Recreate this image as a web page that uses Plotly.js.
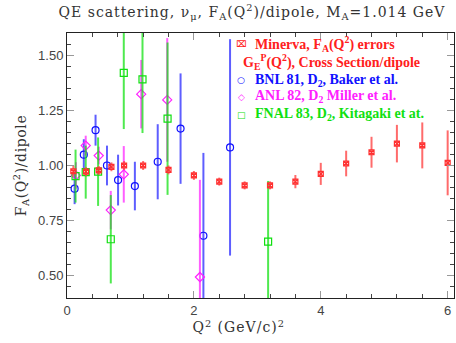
<!DOCTYPE html>
<html>
<head>
<meta charset="utf-8">
<script src="https://cdn.plot.ly/plotly-3.0.1.min.js"></script>
<style>
html,body{margin:0;padding:0;background:#fff;}
#chart{width:456px;height:343px;}
#chart .gtitle{letter-spacing:1px;}
#chart .xtitle{letter-spacing:1px;}
#chart .ytitle{letter-spacing:0.6px;}
</style>
</head>
<body>
<div id="chart"></div>
<script>
// Minerva F_A(Q^2)/dipole
const minervaQ2 = [0.1, 0.3, 0.5, 0.7, 0.9, 1.2, 1.6, 2.0, 2.4, 2.8, 3.2, 3.6, 4.0, 4.4, 4.8, 5.2, 5.6, 6.0];
const minervaVal = [0.974, 0.972, 0.978, 0.994, 1.0, 1.0, 0.98, 0.955, 0.927, 0.91, 0.91, 0.927, 0.962, 1.009, 1.06, 1.099, 1.091, 1.012];
const minervaErr = [0.025, 0.02, 0.02, 0.02, 0.02, 0.02, 0.02, 0.02, 0.018, 0.018, 0.018, 0.03, 0.05, 0.058, 0.07, 0.085, 0.104, 0.147];
// BNL 81, D2, Baker et al.
const bnlQ2 = [0.12, 0.265, 0.45, 0.63, 0.805, 1.07, 1.43, 1.79, 2.15, 2.57];
const bnlVal = [0.895, 1.049, 1.16, 1.0, 0.934, 0.907, 1.017, 1.167, 0.682, 1.082];
const bnlErr = [0.07, 0.07, 0.07, 0.09, 0.115, 0.11, 0.17, 0.25, 0.375, 0.49];
// ANL 82, D2 Miller et al.
const anlQ2 = [0.14, 0.295, 0.5, 0.69, 0.895, 1.17, 1.58, 2.095];
const anlVal = [0.955, 1.09, 1.045, 0.798, 0.96, 1.323, 1.297, 0.495];
const anlErr = [0.06, 0.045, 0.04, 0.087, 0.128, 0.155, 0.28, 0.44];
// FNAL 83, D2, Kitagaki et al.
const fnalQ2 = [0.135, 0.295, 0.49, 0.69, 0.895, 1.19, 1.585, 3.17];
const fnalVal = [0.952, 0.97, 0.972, 0.666, 1.419, 1.39, 1.212, 0.655];
const fnalErr = [0.12, 0.12, 0.155, 0.2, 0.254, 0.243, 0.345, 0.275];

const legendLines = [
  {text: 'Minerva, F<sub>A</sub>(Q<sup>2</sup>) errors', color: '#ff2020'},
  {text: 'G<sub>E</sub><sup>P</sup>(Q<sup>2</sup>), Cross Section/dipole', color: '#ff2020'},
  {text: 'BNL 81, D<sub>2</sub>, Baker et al.', color: '#1010ff'},
  {text: 'ANL 82, D<sub>2</sub> Miller et al.', color: '#ff20ff'},
  {text: 'FNAL 83, D<sub>2</sub>, Kitagaki et at.', color: '#10e010'}
];
const legendSymbols = ['\u2327', '', '\u25CB', '\u25C7', '\u25A1'];

function errTrace(x, y, e, sym, size, col, barCol) {
  return {
    x: x, y: y, type: 'scatter', mode: 'markers', showlegend: false, cliponaxis: true,
    error_y: {type: 'data', array: e, visible: true, color: barCol, thickness: 2, width: 0},
    marker: {symbol: sym, size: size, color: col, line: {color: col, width: 1.2}}
  };
}

const data = [
  errTrace(bnlQ2, bnlVal, bnlErr, 'circle-open', 7, '#1010ff', 'rgba(40,40,255,0.75)'),
  errTrace(anlQ2, anlVal, anlErr, 'diamond-open', 7, '#ff20ff', 'rgba(255,40,255,0.75)'),
  errTrace(fnalQ2, fnalVal, fnalErr, 'square-open', 7, '#10e010', 'rgba(20,225,20,0.75)'),
  errTrace(minervaQ2, minervaVal, minervaErr, 'square-x-open', 5, '#ff3030', 'rgba(255,70,70,0.8)')
];

const serif = 'Liberation Serif, DejaVu Serif, serif';
const annotations = [];
const rowY = [43.5, 61.7, 80, 97, 115];
legendLines.forEach((l, i) => {
  const sym = legendSymbols[i];
  annotations.push({
    xref: 'paper', yref: 'paper', x: (241 - 67) / 387, y: 1 - (rowY[i] - 33) / 265,
    xanchor: sym ? 'center' : 'left', yanchor: 'middle', showarrow: false,
    text: sym ? sym : l.text,
    font: {family: sym ? 'DejaVu Sans' : serif, size: sym ? 9 : 14, color: l.color, weight: 'bold'}
  });
  if (sym) {
    annotations.push({
      xref: 'paper', yref: 'paper', x: (253 - 67) / 387, y: 1 - (rowY[i] - 33) / 265,
      xanchor: 'left', yanchor: 'middle', showarrow: false, text: l.text,
      font: {family: serif, size: 14, color: l.color, weight: 'bold'}
    });
  }
});

const axisCommon = {
  showgrid: false, zeroline: false, showline: true, linecolor: '#222', linewidth: 1,
  mirror: 'allticks', ticks: 'inside', ticklen: 7, tickcolor: '#999', tickwidth: 1,
  tickfont: {family: 'Liberation Sans, Arial, sans-serif', size: 13, color: '#444'}
};

const layout = {
  width: 456, height: 343,
  margin: {l: 67, r: 2, t: 33, b: 45},
  paper_bgcolor: '#fff', plot_bgcolor: '#fff',
  title: {
    text: 'QE scattering, \u03bd<sub>\u03bc</sub>, F<sub>A</sub>(Q<sup>2</sup>)/dipole, M<sub>A</sub>=1.014 GeV',
    font: {family: 'DejaVu Serif, serif', size: 14, color: '#333'},
    x: 252 / 456, xref: 'container', xanchor: 'center', y: 1 - 12 / 343, yref: 'container', yanchor: 'middle'
  },
  xaxis: Object.assign({}, axisCommon, {
    range: [0, 6.1], tickvals: [0, 2, 4, 6], ticktext: ['0', '2', '4', '6'],
    minor: {dtick: 0.4, tick0: 0, ticks: 'inside', ticklen: 4, tickcolor: '#444', showgrid: false},
    title: {text: 'Q<sup>2</sup> (GeV/c)<sup>2</sup>' + '&nbsp;'.repeat(8), standoff: 4,
            font: {family: 'DejaVu Serif, serif', size: 14, color: '#333'}}
  }),
  yaxis: Object.assign({}, axisCommon, {
    range: [0.4, 1.6], tickvals: [0.5, 0.75, 1.0, 1.25, 1.5], ticktext: ['0.50', '0.75', '1.00', '1.25', '1.50'],
    minor: {dtick: 0.05, tick0: 0, ticks: 'inside', ticklen: 4, tickcolor: '#444', showgrid: false},
    title: {text: 'F<sub>A</sub>(Q<sup>2</sup>)/dipole', standoff: 8,
            font: {family: 'DejaVu Serif, serif', size: 14, color: '#333'}}
  }),
  annotations: annotations,
  showlegend: false
};

Plotly.newPlot('chart', data, layout, {displayModeBar: false, staticPlot: true});
</script>
</body>
</html>
